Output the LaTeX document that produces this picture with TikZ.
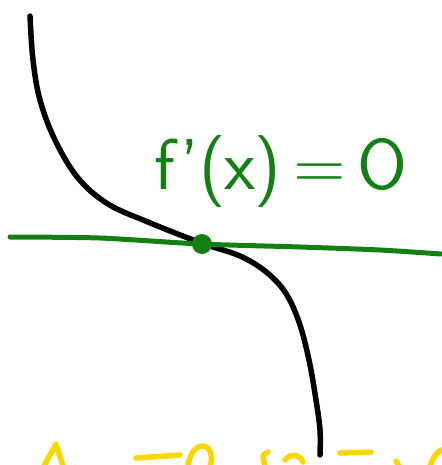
\documentclass[tikz,border=0pt]{standalone}
\usepackage{tikz}
\definecolor{penGreen}{RGB}{18,128,18}
\definecolor{penYellow}{RGB}{252,214,0}
\tikzset{
  pen/.style={line width=5.5pt, line cap=round, line join=round},
}

\begin{document}
\begin{tikzpicture}[x=1pt,y=-1pt]
\useasboundingbox (0,0) rectangle (441,465);
% curve
\draw[pen, black] plot[smooth, tension=0.6] coordinates {
  (30,16) (33,60) (40,100) (55,140) (78,178) (108,204) (148,222)
  (188,238) (210,246) (240,256) (265,271) (285,292) (299,322)
  (309,360) (316,400) (320,430) (320,455)};
% tangent line
\draw[pen, penGreen, line width=5pt] plot[smooth, tension=0.4] coordinates {
  (10,237) (100,238) (200,244) (300,247) (380,250) (441,254)};
\fill[penGreen] (202,244) circle (10);
\node[text=penGreen, font=\fontsize{72}{76}\selectfont\sffamily] (deriv) at (281,172) {f'(\kern-1pt x\kern-1pt)\,=\,O};
% yellow writing cut off at the bottom
\draw[pen, penYellow] (44,466) -- (56,444) -- (63,466);
\draw[pen, penYellow] (136,458) -- (180,455);
\draw[pen, penYellow] (188,466) .. controls (190,450) and (200,442) .. (208,448) .. controls (213,455) and (212,462) .. (210,466);
\draw[pen, penYellow] (265,466) .. controls (262,455) .. (268,452);
\draw[pen, penYellow] (285,460) .. controls (292,452) and (300,455) .. (303,462);
\draw[pen, penYellow] (340,453) -- (371,452);
\draw[pen, penYellow] (396,461) -- (399,466);
\draw[pen, penYellow] (430,466) .. controls (434,456) .. (441,450);
\end{tikzpicture}
\end{document}
